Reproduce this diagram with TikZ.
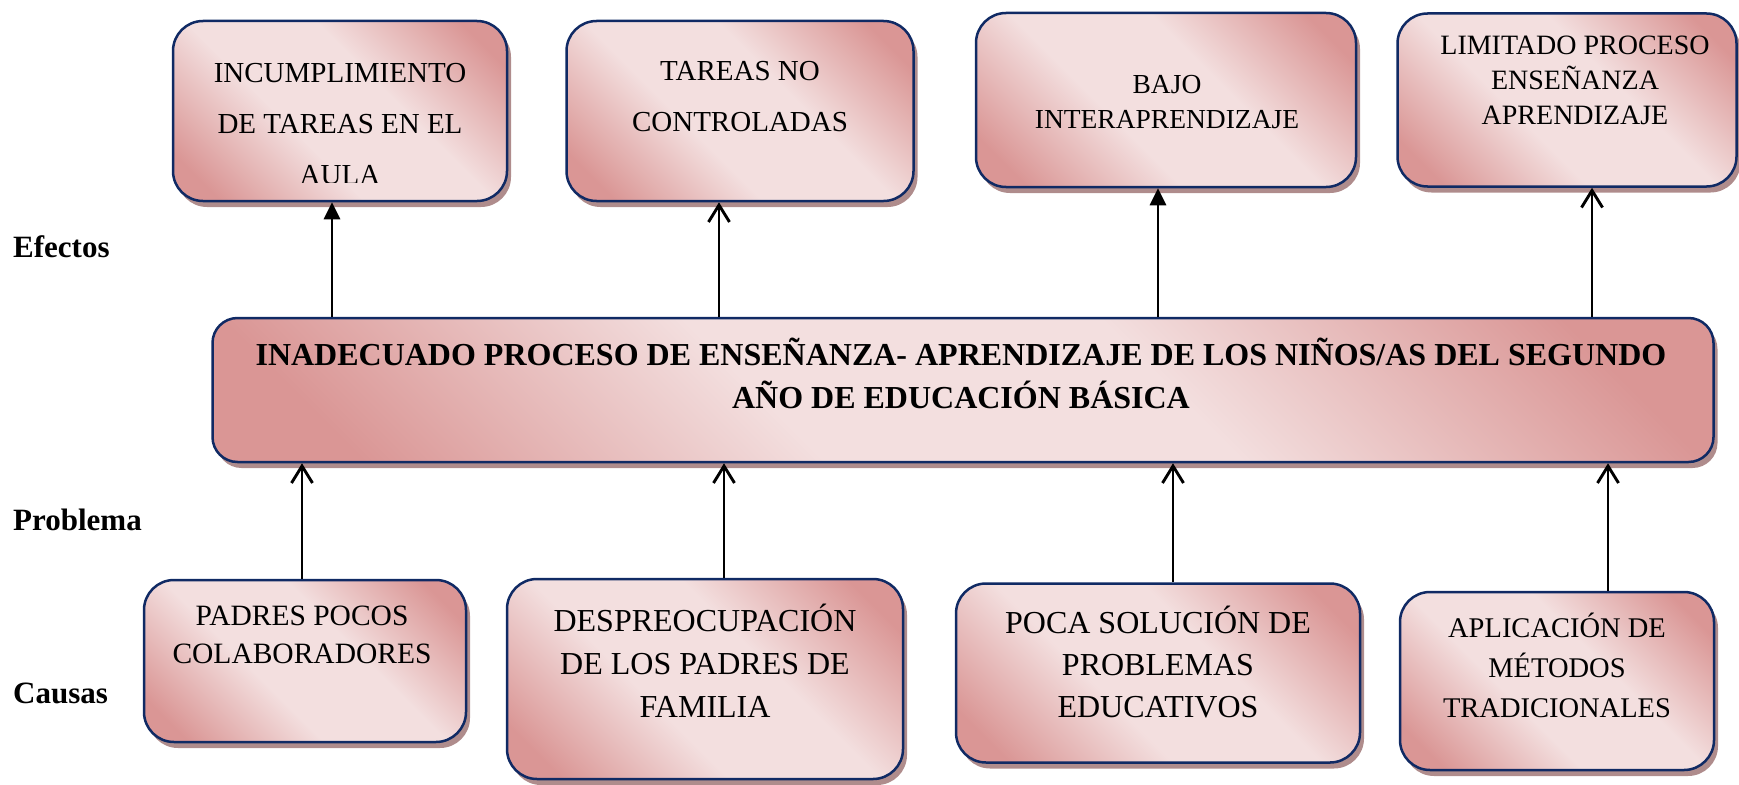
\documentclass[tikz,border=0pt]{standalone}
\usepackage{fontspec}
\setmainfont{Liberation Serif}
\usetikzlibrary{arrows.meta,shadows}
\definecolor{rosa}{RGB}{218,150,149}
\definecolor{rosaclaro}{RGB}{243,223,223}
\definecolor{marino}{RGB}{16,42,100}
\definecolor{sombra}{RGB}{175,140,140}
\pgfdeclareverticalshading{rosado}{100bp}{color(0bp)=(rosa); color(21bp)=(rosa); color(41bp)=(rosaclaro); color(59bp)=(rosaclaro); color(79bp)=(rosa); color(100bp)=(rosa)}
\newcommand{\Lineas}[1]{\begin{tabular}[t]{@{}c@{}}#1\end{tabular}}
\tikzset{
caja/.style={draw=marino,line width=2.5pt,rounded corners=30pt,inner sep=0,
  shade,shading=rosado,shading angle=-45,
  drop shadow={shadow xshift=4pt,shadow yshift=-6pt,fill=sombra,opacity=1}},
texto/.style={anchor=base,inner sep=0},
rotulo/.style={anchor=base west,inner sep=0,font=\bfseries\fontsize{31}{37}\selectfont},
lleno/.style={line width=2.9pt,-{Triangle[length=17pt,width=16pt]}},
abierto/.style={line width=2.9pt,-{Straight Barb[length=17pt,width=21pt]}}
}
\begin{document}
\begin{tikzpicture}[x=1pt,y=-1pt]
\useasboundingbox (0,0) rectangle (1739,784);
\newcommand{\Caja}[4]{\node[caja,minimum width=#3pt,minimum height=#4pt](#1)at(#2){};}
% efectos
\Caja{e1}{340,111}{334}{180}
\Caja{e2}{740,111}{347}{180}
\Caja{e3}{1166,100}{380}{174}
\Caja{e4}{1567,100}{339}{173}
% problema
\node[caja,rounded corners=25pt,minimum width=1501pt,minimum height=144pt](p)at(963,390){};
% causas
\Caja{c1}{305,661}{322}{162}
\Caja{c2}{705,679}{396}{200}
\Caja{c3}{1158,673}{404}{179}
\Caja{c4}{1557,681}{314}{178}
\coordinate(a1)at(332,0);
\coordinate(a2)at(719,0);
\coordinate(a3)at(1158,0);
\coordinate(a4)at(1592,0);
\coordinate(b1)at(302,0);
\coordinate(b2)at(724,0);
\coordinate(b3)at(1173,0);
\coordinate(b4)at(1608,0);
\draw[lleno](a1|-p.north)--(a1|-e1.south);
\draw[abierto](a2|-p.north)--(a2|-e2.south);
\draw[lleno](a3|-p.north)--(a3|-e3.south);
\draw[abierto](a4|-p.north)--(a4|-e4.south);
\draw[abierto](b1|-c1.north)--(b1|-p.south);
\draw[abierto](b2|-c2.north)--(b2|-p.south);
\draw[abierto](b3|-c3.north)--(b3|-p.south);
\draw[abierto](b4|-c4.north)--(b4|-p.south);
\begin{scope}
\clip(172,0)rectangle(508,182);
\node[texto,font=\fontsize{29}{51}\selectfont](e1t)at(340,82){\Lineas{INCUMPLIMIENTO\\DE TAREAS EN EL\\AULA}};
\end{scope}
\node[texto,font=\fontsize{29}{51}\selectfont](e2t)at(740,81){\Lineas{TAREAS NO\\CONTROLADAS}};
\node[texto,font=\fontsize{27.5}{35}\selectfont](e3t)at(1167,93){\Lineas{BAJO\\INTERAPRENDIZAJE}};
\node[texto,font=\fontsize{28}{35}\selectfont](e4t)at(1575,55){\Lineas{LIMITADO PROCESO\\ENSEÑANZA\\APRENDIZAJE}};
\node[texto,font=\bfseries\fontsize{32}{43}\selectfont](pt)at(961,365){\Lineas{INADECUADO PROCESO DE ENSEÑANZA- APRENDIZAJE DE LOS NIÑOS/AS DEL SEGUNDO\\AÑO DE EDUCACIÓN BÁSICA}};
\node[texto,font=\fontsize{29.5}{38}\selectfont](c1t)at(302,625){\Lineas{PADRES POCOS\\COLABORADORES}};
\node[texto,font=\fontsize{32}{43}\selectfont](c2t)at(705,631){\Lineas{DESPREOCUPACIÓN\\DE LOS PADRES DE\\FAMILIA}};
\node[texto,font=\fontsize{32}{42}\selectfont](c3t)at(1158,633){\Lineas{POCA SOLUCIÓN DE\\PROBLEMAS\\EDUCATIVOS}};
\node[texto,font=\fontsize{28.5}{40}\selectfont](c4t)at(1557,637){\Lineas{APLICACIÓN DE\\MÉTODOS\\TRADICIONALES}};
\node[rotulo](ef)at(13,257){Efectos};
\node[rotulo](pr)at(13,530){Problema};
\node[rotulo](ca)at(13,703){Causas};
\end{tikzpicture}
\end{document}
